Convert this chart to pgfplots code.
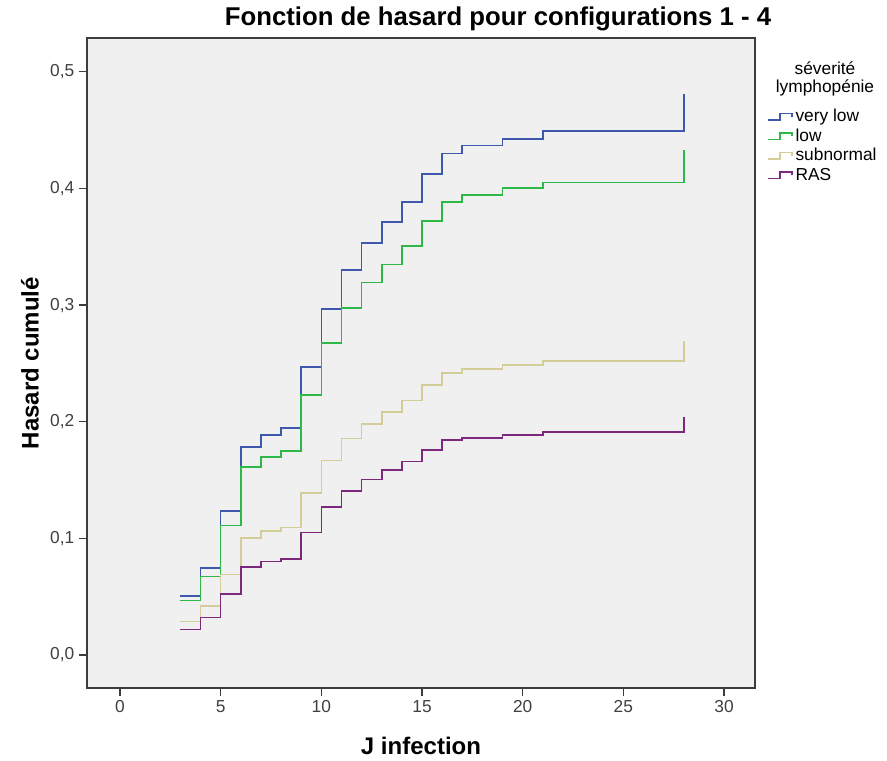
\documentclass[border=0pt]{standalone}
\usepackage{fontspec}
\setmainfont{Liberation Sans}
\usepackage{pgfplots}
\pgfplotsset{compat=1.18}

\definecolor{vlow}{HTML}{3E58AC}
\definecolor{low}{HTML}{2EB848}
\definecolor{subn}{HTML}{D3CE97}
\definecolor{ras}{HTML}{7C287D}
\definecolor{bggray}{HTML}{F0F0F0}
\definecolor{axisgray}{HTML}{3C3C3C}
\definecolor{tickgray}{HTML}{404040}

\begin{document}
\begin{tikzpicture}
% page = 887x760 px, 1px = 0.75pt, axis frame from (87,38) to (755,688)
\useasboundingbox (-65.25pt,-54pt) rectangle (600pt,516pt);
\begin{axis}[
    at={(0pt,0pt)}, anchor=south west,
    width=501pt, height=487.5pt, scale only axis,
    xmin=-1.64, xmax=31.54,
    ymin=-0.0283, ymax=0.529,
    axis background/.style={fill=bggray},
    axis line style={draw=axisgray, line width=1pt},
    xtick={0,5,10,15,20,25,30},
    ytick={0,0.1,0.2,0.3,0.4,0.5},
    tick pos=left, tick align=outside, major tick length=6pt,
    tick style={draw=axisgray, line width=0.9pt},
    yticklabel style={/pgf/number format/.cd, fixed, fixed zerofill, precision=1, use comma},
    /pgf/number format/assume math mode=true,
    ticklabel style={font=\fontsize{13}{15}\selectfont, text=tickgray},
    xlabel={J infection}, ylabel={Hasard cumulé},
    label style={font=\bfseries\fontsize{18}{21}\selectfont},
    xlabel style={at={(axis description cs:0.5,-0.0892)}, anchor=center},
    ylabel style={at={(axis description cs:-0.0853,0.5)}, anchor=center},
    legend cell align=left,
    legend style={at={(1.018,0.894)}, anchor=north west, draw=none, fill=none,
        inner sep=0pt, font=\fontsize{13}{15}\selectfont, row sep=0pt,
        nodes={text height=10pt, text depth=2.6pt, inner ysep=1pt, inner xsep=2pt}},
    legend image code/.code={\draw[#1] (0pt,-2.5pt) -- (9pt,-2.5pt) -- (9pt,2.5pt) -- (18pt,2.5pt) -- (18pt,0pt);},
    every axis plot/.append style={const plot, line width=1.2pt},
]
\addplot[vlow] coordinates {
    (3,0.0506) (4,0.0746) (5,0.1235) (6,0.1784) (7,0.1887) (8,0.1947) (9,0.2470)
    (10,0.2967) (11,0.3302) (12,0.3533) (13,0.3710) (14,0.3885) (15,0.4125)
    (16,0.4300) (17,0.4368) (19,0.4425) (21,0.4494) (28,0.4809)
};
\addlegendentry{very low}
\addplot[low] coordinates {
    (3,0.0466) (4,0.0672) (5,0.1109) (6,0.1610) (7,0.1700) (8,0.1750) (9,0.2230)
    (10,0.2676) (11,0.2976) (12,0.3193) (13,0.3347) (14,0.3508) (15,0.3722)
    (16,0.3883) (17,0.3945) (19,0.4003) (21,0.4051) (28,0.4331)
};
\addlegendentry{low}
\addplot[subn] coordinates {
    (3,0.0286) (4,0.0420) (5,0.0689) (6,0.1001) (7,0.1061) (8,0.1092) (9,0.1387)
    (10,0.1666) (11,0.1857) (12,0.1979) (13,0.2082) (14,0.2181) (15,0.2316)
    (16,0.2416) (17,0.2450) (19,0.2487) (21,0.2521) (28,0.2693)
};
\addlegendentry{subnormal}
\addplot[ras] coordinates {
    (3,0.0220) (4,0.0320) (5,0.0523) (6,0.0757) (7,0.0800) (8,0.0823) (9,0.1049)
    (10,0.1267) (11,0.1407) (12,0.1503) (13,0.1584) (14,0.1658) (15,0.1756)
    (16,0.1841) (17,0.1861) (19,0.1887) (21,0.1910) (28,0.2044)
};
\addlegendentry{RAS}
\end{axis}
\node[font=\bfseries\fontsize{19.3}{22}\selectfont] at (308.25pt,501.75pt)
    {Fonction de hasard pour configurations 1 - 4};
\node[font=\fontsize{13}{13.5}\selectfont, align=center, text=black] at (553.5pt,456.75pt)
    {séverité\\lymphopénie};
\end{tikzpicture}
\end{document}
